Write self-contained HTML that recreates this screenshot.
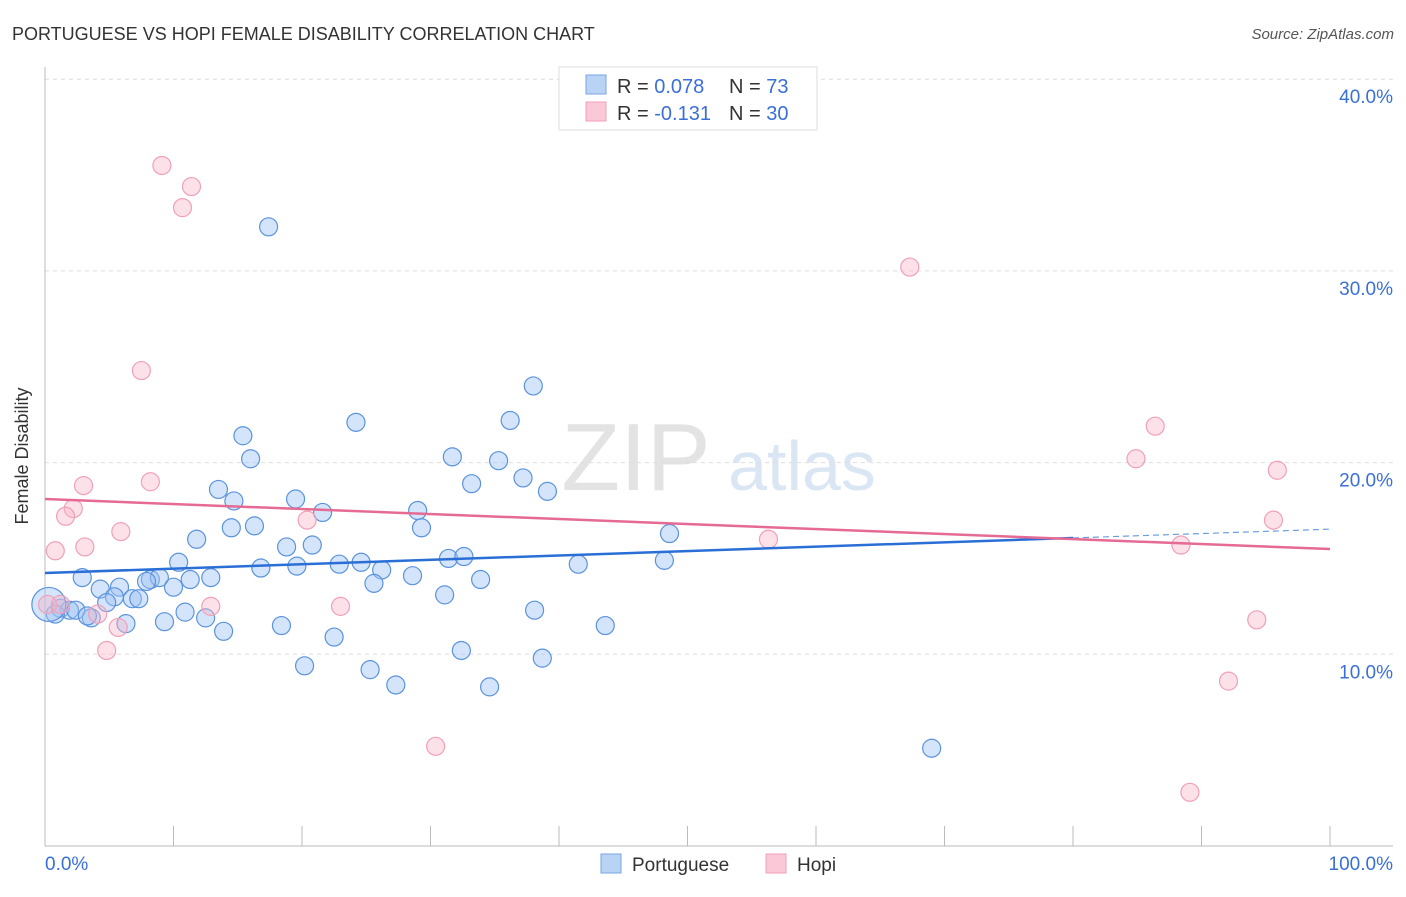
<!DOCTYPE html>
<html><head><meta charset="utf-8"><style>
body{margin:0;background:#fff;font-family:"Liberation Sans",sans-serif;}
svg text{font-family:"Liberation Sans",sans-serif;}
</style></head><body>
<svg id="c" width="1406" height="892">
<text x="12" y="40" font-size="18" fill="#333">PORTUGUESE VS HOPI FEMALE DISABILITY CORRELATION CHART</text>
<text x="1394" y="39" font-size="15" fill="#555" font-style="italic" text-anchor="end">Source: ZipAtlas.com</text>
<text x="28" y="456" font-size="18" fill="#333" text-anchor="middle" transform="rotate(-90 28 456)">Female Disability</text>
<g><text x="636" y="490" font-size="96" fill="#e3e3e3" font-family="Liberation Serif" text-anchor="middle">ZIP</text><text x="802" y="490" font-size="70" fill="#dbe6f5" text-anchor="middle">atlas</text></g>
<g id="grid"></g><g id="pts"></g><g id="trend"></g>
<g>
<rect x="559" y="67" width="258" height="63" fill="#fff" stroke="#ddd"/>
<rect x="586" y="75" width="20" height="19" fill="#b9d3f5" stroke="#7aa6e0"/>
<rect x="586" y="102" width="20" height="19" fill="#fac8d6" stroke="#f0a0b8"/>
<text x="617" y="93" font-size="20" fill="#333">R = <tspan fill="#3a6fd8">0.078</tspan></text>
<text x="729" y="93" font-size="20" fill="#333">N = <tspan fill="#3a6fd8">73</tspan></text>
<text x="617" y="120" font-size="20" fill="#333">R = <tspan fill="#3a6fd8">-0.131</tspan></text>
<text x="729" y="120" font-size="20" fill="#333">N = <tspan fill="#3a6fd8">30</tspan></text>
</g>
<g>
<rect x="601" y="854" width="20" height="19" fill="#b9d3f5" stroke="#7aa6e0"/><text x="632" y="871" font-size="19" fill="#333">Portuguese</text>
<rect x="766" y="854" width="20" height="19" fill="#fac8d6" stroke="#f0a0b8"/><text x="797" y="871" font-size="19" fill="#333">Hopi</text>
</g>
</svg>
<script>
const yTicks=[10,20,30,40];
const xTickLabels=["0.0%","100.0%"];
const portX=[17.4,38.0,36.2,24.2,15.4,31.7,16.0,35.3,37.2,33.2,39.1,13.5,14.7,19.5,29.0,21.6,16.3,14.5,29.3,48.6,11.8,18.8,20.8,10.4,31.4,32.6,22.9,24.6,16.8,19.6,26.2,41.5,48.2,2.9,8.2,8.9,12.9,11.3,28.6,25.6,33.9,7.9,4.3,5.8,10.0,5.4,6.8,7.3,31.1,4.8,1.2,1.9,2.4,0.8,3.6,10.9,12.5,38.1,6.3,9.3,18.4,43.6,13.9,22.5,32.4,38.7,20.2,25.3,27.3,34.6,69.0,0.3,3.3];
const portY=[32.3,24.0,22.2,22.1,21.4,20.3,20.2,20.1,19.2,18.9,18.5,18.6,18.0,18.1,17.5,17.4,16.7,16.6,16.6,16.3,16.0,15.6,15.7,14.8,15.0,15.1,14.7,14.8,14.5,14.6,14.4,14.7,14.9,14.0,13.9,14.0,14.0,13.9,14.1,13.7,13.9,13.8,13.4,13.5,13.5,13.0,12.9,12.9,13.1,12.7,12.4,12.3,12.3,12.1,11.9,12.2,11.9,12.3,11.6,11.7,11.5,11.5,11.2,10.9,10.2,9.8,9.4,9.2,8.4,8.3,5.1,12.6,12.0];
const hopiX=[9.1,11.4,10.7,67.3,7.5,86.4,84.9,95.9,8.2,3.0,2.2,1.6,95.6,20.4,5.9,56.3,88.4,0.8,3.1,12.9,23.0,0.2,1.2,4.1,5.7,94.3,4.8,92.1,30.4,89.1];
const hopiY=[35.5,34.4,33.3,30.2,24.8,21.9,20.2,19.6,19.0,18.8,17.6,17.2,17.0,17.0,16.4,16.0,15.7,15.4,15.6,12.5,12.5,12.6,12.6,12.1,11.4,11.8,10.2,8.6,5.2,2.8];
const portTrend=[14.24,16.07]; // y at x=0 and x=80
const hopiTrend=[18.1,15.49];  // y at x=0 and x=100
const X=v=>45+v*12.85, Y=v=>846-v*19.17;
const NS="http://www.w3.org/2000/svg";
function mk(p,t,a){const e=document.createElementNS(NS,t);for(const k in a)e.setAttribute(k,a[k]);p.appendChild(e);return e;}
const grid=document.getElementById('grid');
yTicks.forEach(t=>{
 const l=mk(grid,'line',{x1:45,x2:1393,y1:Y(t),y2:Y(t),stroke:'#ddd','stroke-dasharray':'4,4'});
 
 
 const tx=mk(grid,'text',{x:1393,y:Y(t)+24,'font-size':19,fill:'#3a6fd8','text-anchor':'end'});tx.textContent=t.toFixed(1)+'%';
 
 
});
const ax=mk(grid,'line',{x1:45,x2:1393,y1:846,y2:846,stroke:'#bbb'});


const ay=mk(grid,'line',{x1:45,x2:45,y1:67,y2:846,stroke:'#bbb'});


for(let i=0;i<=10;i++){const t=mk(grid,'line',{x1:X(i*10),x2:X(i*10),y1:826,y2:846,stroke:'#bbb'});
 
 }
[[0,'start'],[100,'end']].forEach((d,i)=>{const t=mk(grid,'text',{x:i?1393:45,y:870,'font-size':19,fill:'#3a6fd8','text-anchor':d[1]});t.textContent=xTickLabels[i];
 
 });
const pts=document.getElementById('pts');
portX.forEach((x,i)=>{const c=mk(pts,'circle',{cx:X(x),cy:Y(portY[i]),r:i==portX.length-2?17:9,fill:'rgba(160,196,245,0.45)',stroke:'#5b93dc','stroke-width':1.2});
 
 });
hopiX.forEach((x,i)=>{const c=mk(pts,'circle',{cx:X(x),cy:Y(hopiY[i]),r:9,fill:'rgba(248,180,200,0.4)',stroke:'#f0a0b8','stroke-width':1.2});
 
 });
const tr=document.getElementById('trend');
const s=(portTrend[1]-portTrend[0])/80;
const b1=mk(tr,'line',{x1:X(0),y1:Y(portTrend[0]),x2:X(80),y2:Y(portTrend[1]),stroke:'#2a6fd6','stroke-width':2.5});


const b2=mk(tr,'line',{x1:X(80),y1:Y(portTrend[1]),x2:X(100),y2:Y(portTrend[0]+s*100),stroke:'#6a9ee0','stroke-width':1.2,'stroke-dasharray':'6,4'});


const h=mk(tr,'line',{x1:X(0),y1:Y(hopiTrend[0]),x2:X(100),y2:Y(hopiTrend[1]),stroke:'#e56a94','stroke-width':2.5});


</script>
</body></html>
